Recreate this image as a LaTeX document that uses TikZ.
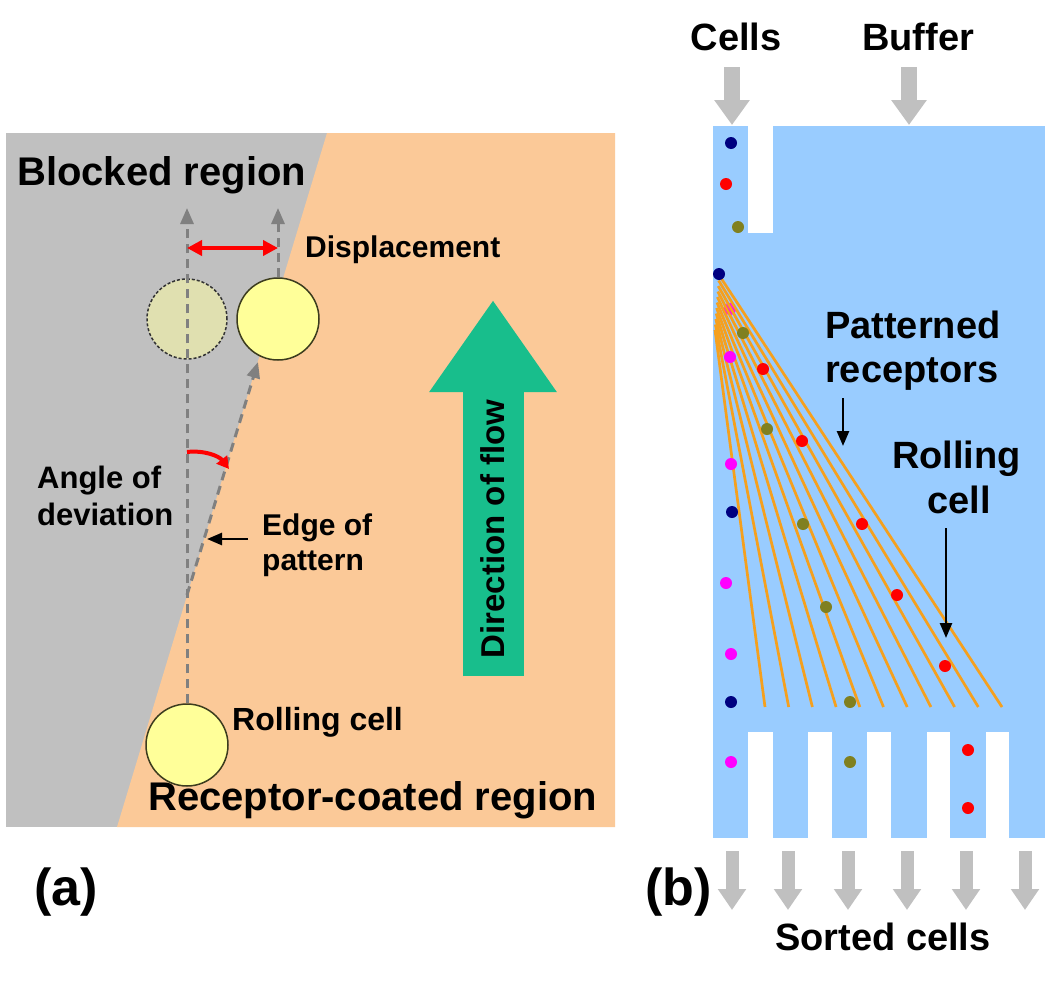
\documentclass[tikz,border=0pt]{standalone}
\usepackage{fontspec}
\setmainfont{Liberation Sans}
\usetikzlibrary{arrows.meta}
\definecolor{grayreg}{RGB}{192,192,192}
\definecolor{peach}{RGB}{251,201,152}
\definecolor{flowgreen}{RGB}{24,190,140}
\definecolor{chanblue}{RGB}{153,204,255}
\definecolor{fanorange}{RGB}{245,160,30}
\definecolor{dashgray}{RGB}{128,128,128}
\definecolor{cellyellow}{RGB}{255,255,153}
\definecolor{ghostfill}{RGB}{224,224,176}
\definecolor{arrowgray}{RGB}{192,192,192}
\definecolor{cnavy}{RGB}{0,0,128}
\definecolor{cred}{RGB}{255,0,0}
\definecolor{colive}{RGB}{128,128,32}
\definecolor{cmag}{RGB}{255,0,255}
\begin{document}
\begin{tikzpicture}[x=1pt,y=-1pt,
  txt/.style={inner sep=0pt, anchor=base west, text=black},
  fbig/.style={font=\bfseries\fontsize{40}{46}\selectfont},
  fmid/.style={font=\bfseries\fontsize{31}{36}\selectfont},
  fsm/.style={font=\bfseries\fontsize{30}{34}\selectfont},
  fb/.style={font=\bfseries\fontsize{38}{44}\selectfont},
  fpan/.style={font=\bfseries\fontsize{52}{60}\selectfont},
  cellc/.style={circle, inner sep=0pt, minimum size=82pt, draw={rgb,255:red,60;green,60;blue,30}, line width=1.5pt, fill=cellyellow},
  ghostc/.style={circle, inner sep=0pt, minimum size=80pt, draw=black!80, densely dashed, line width=1.5pt, fill=ghostfill},
  dasharr/.style={draw=dashgray, line width=3pt, dash pattern=on 9pt off 6pt, -{Triangle[width=13pt,length=16pt]}},
  redarr/.style={draw=cred, line width=4pt, {Triangle[width=15pt,length=15pt]}-{Triangle[width=15pt,length=15pt]}},
  redcurve/.style={draw=cred, line width=4pt, -{Triangle[width=13pt,length=12pt]}},
  blkarr/.style={draw=black, line width=2.5pt, -{Triangle[width=12pt,length=15pt]}},
  garrowT/.style={draw=arrowgray, line width=16pt, -{Triangle[width=34pt,length=25pt]}},
  garrowB/.style={draw=arrowgray, line width=13pt, -{Triangle[width=27pt,length=21pt]}},
  fanline/.style={draw=fanorange, line width=2.7pt},
]
\useasboundingbox (0,0) rectangle (1050,983);

% ---------------- panel (a) ----------------
\fill[grayreg] (6,133) rectangle (615,827);
\fill[peach] (327,133) -- (615,133) -- (615,827) -- (117,827) -- cycle;

\node[txt, fbig] (blocked) at (17,185) {Blocked region};
\node[txt, fbig] (coated) at (148,810) {Receptor-coated region};
\node[txt, fsm] (disp) at (305,257) {Displacement};
\node[txt, fmid] (ang1) at (37,488) {Angle of};
\node[txt, fmid] (ang2) at (37,525) {deviation};
\node[txt, fsm] (edge1) at (262,535) {Edge of};
\node[txt, fsm] (edge2) at (262,570) {pattern};
\node[txt, font=\bfseries\fontsize{32}{36}\selectfont] (rolla) at (232,730) {Rolling cell};

% flow arrow
\coordinate (flowS) at (493,676);
\coordinate (flowE) at (493,300);
\draw[draw=flowgreen, line width=61pt, -{Triangle[width=121pt,length=92pt]}] (flowS) -- (flowE);
\node[rotate=90, inner sep=0pt, font=\bfseries\fontsize{33}{38}\selectfont] (flow) at (493,529) {Direction of flow};

% circles
\node[ghostc] (gc) at (187,319) {};
\node[cellc] (sc) at (278,319) {};
\node[cellc] (rc) at (187,745) {};

\coordinate (topL) at (187,208);
\coordinate (topR) at (278,208);
\coordinate (slantS) at (187,595);
\coordinate (slantE) at (258,362);
\draw[dasharr] (rc.north) -- (topL);
\draw[dasharr] (sc.north) -- (topR);
\draw[dasharr] (slantS) -- (slantE);

\coordinate (dL) at (187,248);
\coordinate (dR) at (278,248);
\draw[redarr] (dL) -- (dR);

\coordinate (angS) at (187,452);
\coordinate (angE) at (229,469);
\draw[redcurve] (angS) .. controls (204,450) and (219,456) .. (angE);

\coordinate (edgeS) at (248,539);
\coordinate (edgeE) at (207,539);
\draw[blkarr] (edgeS) -- (edgeE);

% ---------------- panel (b) ----------------
\fill[chanblue] (713,126) rectangle (1045,838);
\fill[white] (748,126) rectangle (773,233);
\foreach \a/\b in {748/773, 808/832, 867/891, 927/950, 986/1009} {
  \fill[white] (\a,732) rectangle (\b,838);
}

\fill[cmag] (730,309) circle (6pt);
\foreach \i in {0,...,10} {
  \draw[fanline] ({715+0.4*\i},{330-5.5*\i}) -- ({765+23.7*\i},707);
}

\foreach \p in {(731,143),(719,274),(732,512),(731,702)} \fill[cnavy] \p circle (6pt);
\foreach \p in {(726,184),(763,369),(802,441),(862,524),(897,595),(945,666),(968,750),(968,808)} \fill[cred] \p circle (6pt);
\foreach \p in {(738,227),(743,333),(767,429),(803,524),(826,607),(850,702),(850,762)} \fill[colive] \p circle (6pt);
\foreach \p in {(730,357),(731,464),(726,583),(731,654),(731,762)} \fill[cmag] \p circle (6pt);

\node[inner sep=0pt, anchor=base, fb] (cells) at (736,50) {Cells};
\node[inner sep=0pt, anchor=base, fb] (buffer) at (918,50) {Buffer};
\coordinate (cellsIn) at (732,125);
\coordinate (bufIn) at (909,125);
\draw[garrowT] (732,67) -- (cellsIn);
\draw[garrowT] (909,67) -- (bufIn);

\node[txt, fb] (pr1) at (825,338) {Patterned};
\node[txt, fb] (pr2) at (825,382) {receptors};
\coordinate (prS) at (843,398);
\coordinate (prE) at (843,446);
\draw[blkarr] (prS) -- (prE);

\node[txt, fb] (rb1) at (892,468) {Rolling};
\node[txt, fb] (rb2) at (927,513) {cell};
\coordinate (rbS) at (946,528);
\coordinate (rbE) at (946,638);
\draw[blkarr] (rbS) -- (rbE);

\foreach \x in {732,788,848,907,966,1025} {
  \draw[garrowB] (\x,851) -- (\x,910);
}
\node[inner sep=0pt, anchor=base, fb] (sorted) at (883,950) {Sorted cells};

\node[txt, fpan] (pa) at (34,905) {(a)};
\node[txt, fpan] (pb) at (645,905) {(b)};
\end{tikzpicture}
\end{document}
